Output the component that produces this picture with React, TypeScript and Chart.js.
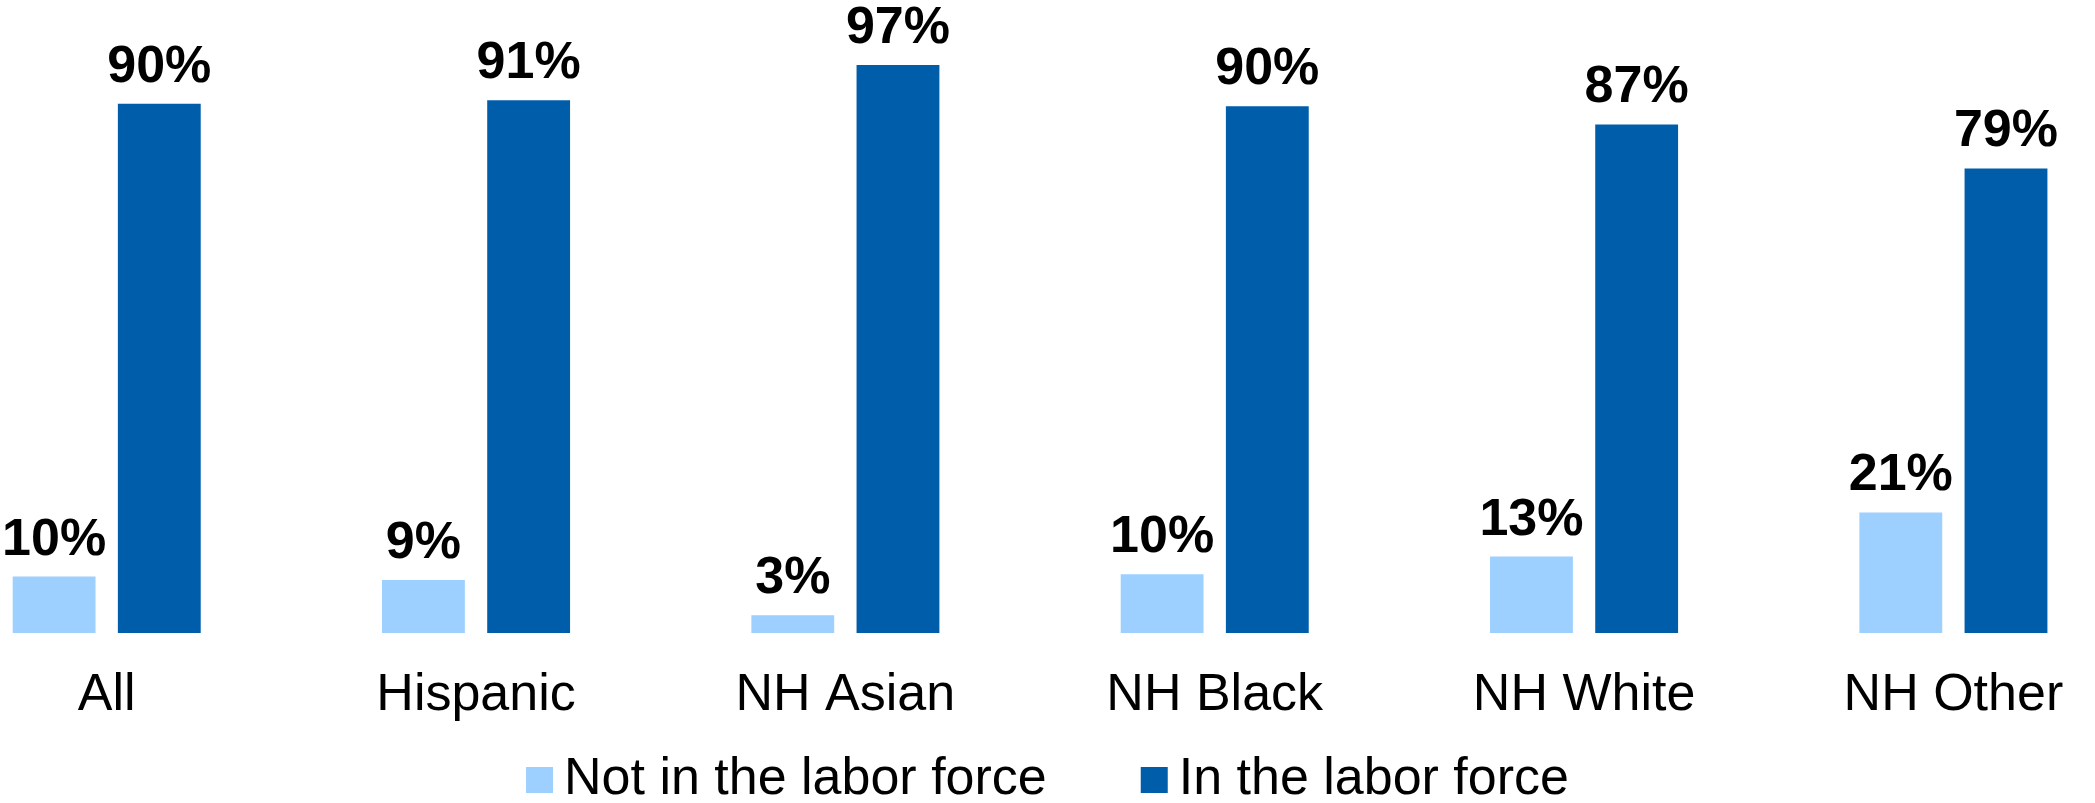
import React, { useEffect, useRef } from "react";
import { Chart, registerables } from "chart.js";

Chart.register(...registerables);

const categories: string[] = ["All", "Hispanic", "NH Asian", "NH Black", "NH White", "NH Other"];
const notInLaborForce: number[] = [9.6, 9, 3, 10, 13, 20.5];
const inLaborForce: number[] = [90, 90.6, 96.6, 89.6, 86.5, 79];
const seriesNames: string[] = ["Not in the labor force", "In the labor force"];
const seriesColors: string[] = ["#9DD0FF", "#005DAA"];

const W = 2095;
const H = 803;
const FONT = '"Liberation Sans", Arial, sans-serif';

const valueLabelPlugin = {
  id: "valueLabels",
  afterDatasetsDraw(chart: any) {
    const ctx = chart.ctx;
    ctx.save();
    ctx.font = `bold 52px ${FONT}`;
    ctx.fillStyle = "#000";
    ctx.textAlign = "center";
    ctx.textBaseline = "alphabetic";
    chart.data.datasets.forEach((ds: any, di: number) => {
      const meta = chart.getDatasetMeta(di);
      meta.data.forEach((el: any, i: number) => {
        ctx.fillText(`${Math.round(ds.data[i])}%`, el.x, el.y - 22);
      });
    });
    ctx.restore();
  },
};

const customLegendPlugin = {
  id: "customLegend",
  afterDraw(chart: any) {
    const ctx = chart.ctx;
    const box = 27;
    const boxH = 26;
    const textGap = 11;
    const itemGap = 94;
    const boxTop = chart.height - 36;
    const baseline = chart.height - 9;
    ctx.save();
    ctx.font = `52px ${FONT}`;
    ctx.textBaseline = "alphabetic";
    ctx.textAlign = "left";
    const items = chart.data.datasets.map((ds: any) => ({
      text: ds.label as string,
      color: ds.backgroundColor as string,
      w: ctx.measureText(ds.label).width,
    }));
    const total =
      items.reduce((s: number, it: any) => s + box + textGap + it.w, 0) + itemGap * (items.length - 1);
    let x = (chart.width - total) / 2;
    items.forEach((it: any) => {
      ctx.fillStyle = it.color;
      ctx.fillRect(x, boxTop, box, boxH);
      ctx.fillStyle = "#000";
      ctx.fillText(it.text, x + box + textGap, baseline);
      x += box + textGap + it.w + itemGap;
    });
    ctx.restore();
  },
};

export default function App() {
  const ref = useRef<HTMLCanvasElement | null>(null);

  useEffect(() => {
    if (!ref.current) return;
    const chart = new Chart(ref.current, {
      type: "bar",
      data: {
        labels: categories,
        datasets: [
          {
            label: seriesNames[0],
            data: notInLaborForce,
            backgroundColor: seriesColors[0],
            categoryPercentage: 0.5696,
            barPercentage: 0.7876,
            clip: false,
          },
          {
            label: seriesNames[1],
            data: inLaborForce,
            backgroundColor: seriesColors[1],
            categoryPercentage: 0.5696,
            barPercentage: 0.7876,
            clip: false,
          },
        ],
      },
      options: {
        responsive: false,
        animation: false,
        layout: {
          padding: { left: 106.7, right: 115.8, top: 45, bottom: 44 },
        },
        plugins: {
          legend: { display: false },
          tooltip: { enabled: false },
        },
        scales: {
          x: {
            type: "category",
            offset: false,
            grid: { display: false, drawTicks: false },
            border: { display: false },
            ticks: {
              color: "#000",
              font: { family: FONT, size: 52 },
              padding: 31.8,
              maxRotation: 0,
              autoSkip: false,
            },
          },
          y: {
            display: false,
            min: 0,
            max: 100,
          },
        },
      },
      plugins: [valueLabelPlugin, customLegendPlugin],
    });
    return () => chart.destroy();
  }, []);

  return (
    <div style={{ position: "fixed", left: 0, top: 0, width: W, height: H, background: "#fff" }}>
      <canvas ref={ref} width={W} height={H} style={{ display: "block" }} />
    </div>
  );
}
